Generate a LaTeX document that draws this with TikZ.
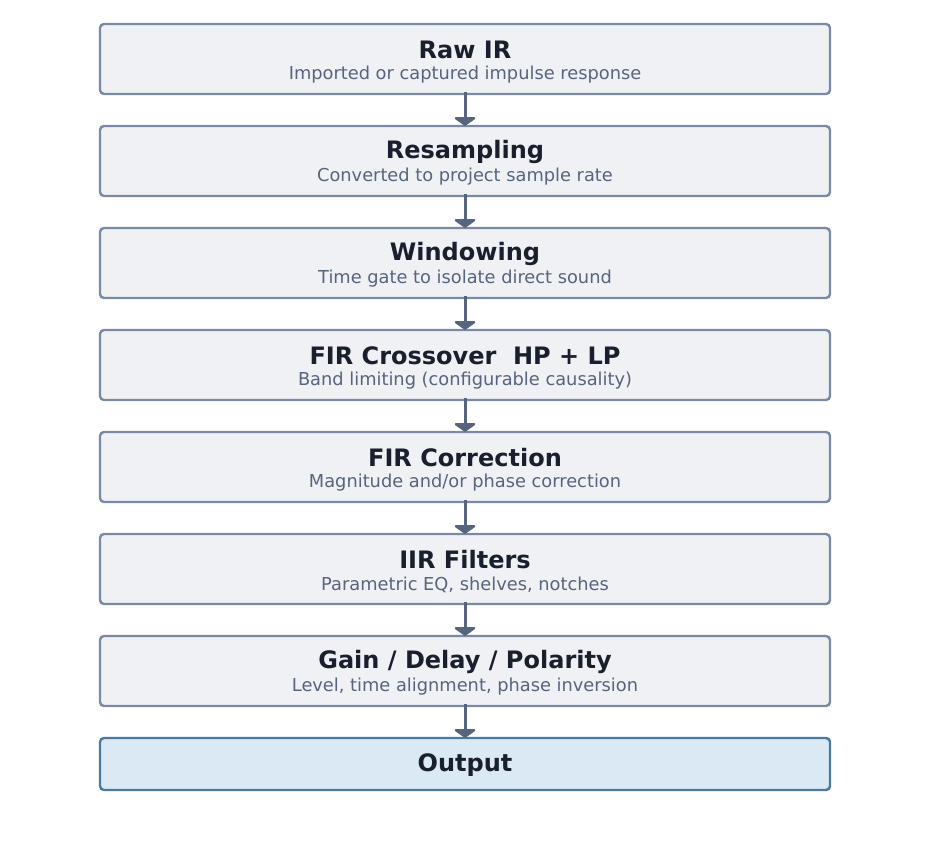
\documentclass[tikz,border=0pt]{standalone}
\usepackage{fontspec}
\setmainfont{DejaVu Sans}
\usepackage{tikz}
\usetikzlibrary{arrows.meta, positioning}
\definecolor{boxfill}{HTML}{EFF1F5}
\definecolor{boxline}{HTML}{7A8AA3}
\definecolor{titletext}{HTML}{1A1F2E}
\definecolor{subtext}{HTML}{56647E}
\definecolor{arrowslate}{HTML}{56647E}
\definecolor{outfill}{HTML}{DAE9F3}
\definecolor{outborder}{HTML}{4A7A9F}

\begin{document}
\begin{tikzpicture}[x=1pt, y=1pt,
    stage/.style={draw=boxline, fill=boxfill, line width=2.4pt, rounded corners=4pt,
        minimum width=730pt, minimum height=70pt, inner sep=0pt},
    outstage/.style={stage, draw=outborder, fill=outfill, minimum height=52pt},
    stagetitle/.style={text=titletext, font=\fontsize{24}{28}\selectfont\bfseries, inner sep=0pt},
    stagesub/.style={text=subtext, font=\fontsize{17.8}{21}\selectfont, inner sep=0pt},
    flow/.style={draw=arrowslate, line width=3pt, -{Triangle[width=25pt, length=9pt, round]}}]
    \useasboundingbox (0,0) rectangle (929,-857);

    % Processing stages
    \foreach \i/\t/\s in {0/{Raw IR}/{Imported or captured impulse response},
        1/{Resampling}/{Converted to project sample rate},
        2/{Windowing}/{Time gate to isolate direct sound},
        3/{FIR Crossover\ \ HP + LP}/{Band limiting (configurable causality)},
        4/{FIR Correction}/{Magnitude and/or phase correction},
        5/{IIR Filters}/{Parametric EQ, shelves, notches},
        6/{Gain / Delay / Polarity}/{Level, time alignment, phase inversion}} {
        \node[stage] (s\i) at (465, {-59-102*\i}) {};
        \node[stagetitle] (t\i) at (465, {-50-102*\i}) {\t};
        \node[stagesub] (u\i) at (465, {-75-102*\i}) {\s};
    }

    % Output
    \node[outstage] (s7) at (465, -764) {};
    \node[stagetitle] (t7) at (465, -765.5) {Output};

    % Arrows between stages
    \foreach \i [evaluate=\i as \j using int(\i+1)] in {0,...,6} {
        \draw[flow] ([yshift=3pt]s\i.south) -- ([yshift=-1pt]s\j.north);
    }
\end{tikzpicture}
\end{document}
